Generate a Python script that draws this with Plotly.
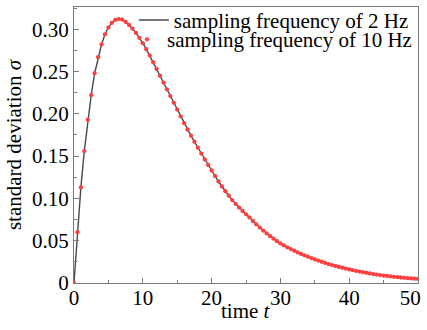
import plotly.graph_objects as go

time_s = [0, 0.5, 1, 1.5, 2, 2.5, 3, 3.5, 4, 4.5, 5, 5.5, 6, 6.5, 7, 7.5, 8, 8.5, 9, 9.5,
          10, 10.5, 11, 11.5, 12, 12.5, 13, 13.5, 14, 14.5, 15, 15.5, 16, 16.5, 17, 17.5,
          18, 18.5, 19, 19.5, 20, 20.5, 21, 21.5, 22, 22.5, 23, 23.5, 24, 24.5, 25, 25.5,
          26, 26.5, 27, 27.5, 28, 28.5, 29, 29.5, 30, 30.5, 31, 31.5, 32, 32.5, 33, 33.5,
          34, 34.5, 35, 35.5, 36, 36.5, 37, 37.5, 38, 38.5, 39, 39.5, 40, 40.5, 41, 41.5,
          42, 42.5, 43, 43.5, 44, 44.5, 45, 45.5, 46, 46.5, 47, 47.5, 48, 48.5, 49, 49.5, 50]

sigma_2hz = [0.0, 0.060, 0.113, 0.156, 0.193, 0.222, 0.248, 0.267, 0.282, 0.294,
             0.302, 0.3075, 0.311, 0.312, 0.3114, 0.3086, 0.305, 0.3008, 0.2957, 0.2898,
             0.2835, 0.2764, 0.269, 0.261, 0.253, 0.245, 0.237, 0.229, 0.221, 0.213,
             0.205, 0.197, 0.189, 0.1815, 0.1742, 0.167, 0.160, 0.153, 0.146, 0.1395,
             0.133, 0.1265, 0.120, 0.1141, 0.1085, 0.1032, 0.098, 0.0935, 0.0892, 0.0851,
             0.0812, 0.0775, 0.0733, 0.0693, 0.0655, 0.0620, 0.0586, 0.0554, 0.0524, 0.0495,
             0.0468, 0.0445, 0.0422, 0.0401, 0.0381, 0.0362, 0.0344, 0.0327, 0.0311, 0.0295,
             0.0280, 0.0265, 0.0251, 0.0237, 0.0224, 0.0212, 0.0201, 0.0190, 0.0180, 0.0170,
             0.0161, 0.0152, 0.0143, 0.0135, 0.0127, 0.0120, 0.0113, 0.0106, 0.0100, 0.0094,
             0.0088, 0.0083, 0.0078, 0.0073, 0.0069, 0.0065, 0.0061, 0.0057, 0.0054, 0.0051,
             0.0048]

sigma_10hz = [0.0, 0.060, 0.113, 0.156, 0.193, 0.222, 0.248, 0.267, 0.282, 0.294,
              0.302, 0.3075, 0.311, 0.312, 0.3114, 0.3086, 0.305, 0.3008, 0.2957, 0.2898,
              0.2835, 0.2764, 0.269, 0.261, 0.253, 0.245, 0.237, 0.229, 0.221, 0.213,
              0.205, 0.197, 0.189, 0.1815, 0.1742, 0.167, 0.160, 0.153, 0.146, 0.1395,
              0.133, 0.1265, 0.120, 0.1141, 0.1085, 0.1032, 0.098, 0.0935, 0.0892, 0.0851,
              0.0812, 0.0775, 0.0733, 0.0693, 0.0655, 0.0620, 0.0586, 0.0554, 0.0524, 0.0495,
              0.0468, 0.0445, 0.0422, 0.0401, 0.0381, 0.0362, 0.0344, 0.0327, 0.0311, 0.0295,
              0.0280, 0.0265, 0.0251, 0.0237, 0.0224, 0.0212, 0.0201, 0.0190, 0.0180, 0.0170,
              0.0161, 0.0152, 0.0143, 0.0135, 0.0127, 0.0120, 0.0113, 0.0106, 0.0100, 0.0094,
              0.0088, 0.0083, 0.0078, 0.0073, 0.0069, 0.0065, 0.0061, 0.0057, 0.0054, 0.0051,
              0.0048]

x_tickvals = [0, 10, 20, 30, 40, 50]
x_ticktext = ["0", "10", "20", "30", "40", "50\u00a0\u00a0\u00a0"]
y_tickvals = [0, 0.05, 0.10, 0.15, 0.20, 0.25, 0.30]
y_ticktext = ["0", "0.05", "0.10", "0.15", "0.20", "0.25", "0.30"]

FONT = "Liberation Serif"

fig = go.Figure()
fig.add_trace(go.Scatter(
    x=time_s, y=sigma_2hz, mode="lines",
    line=dict(color="#4a4a4a", width=1.4),
    name="sampling frequency of 2 Hz", legend="legend", showlegend=True))
fig.add_trace(go.Scatter(
    x=time_s, y=sigma_10hz, mode="markers",
    marker=dict(color="#ff3f3f", size=4.3, line=dict(width=0)),
    name="sampling frequency of 10 Hz", legend="legend2", showlegend=True))

axis_common = dict(
    showline=True, mirror=True, linecolor="#7a7a7a", linewidth=1.3,
    ticks="inside", ticklen=5, tickcolor="#7a7a7a", tickwidth=1,
    showgrid=False, zeroline=False,
    tickfont=dict(family=FONT, size=21, color="black"),
    ticklabeloverflow="allow",
    automargin=False,
)

fig.update_layout(
    width=427, height=330,
    margin=dict(l=74, r=9, t=7, b=46.5, autoexpand=False),
    paper_bgcolor="white", plot_bgcolor="white",
    showlegend=True,
    font=dict(family=FONT, size=21, color="black"),
    xaxis=dict(range=[0, 50], tickmode="array", tickvals=x_tickvals, ticktext=x_ticktext,
               minor=dict(ticks="inside", ticklen=3, tickcolor="#7a7a7a", dtick=5, tick0=0),
               ticklabelstandoff=-4,
               **axis_common),
    yaxis=dict(range=[0, 0.3263], tickmode="array", tickvals=y_tickvals, ticktext=y_ticktext,
               minor=dict(ticks="inside", ticklen=3, tickcolor="#7a7a7a", dtick=0.025, tick0=0),
               title=dict(text="standard deviation <i>σ</i>", font=dict(family=FONT, size=21), standoff=4),
               **axis_common),
    legend=dict(x=0.174, y=1.026, xanchor="left", yanchor="top",
                bgcolor="rgba(0,0,0,0)", borderwidth=0,
                font=dict(family=FONT, size=21, color="black"), itemwidth=30),
    legend2=dict(x=0.154, y=0.956, xanchor="left", yanchor="top",
                 bgcolor="rgba(0,0,0,0)", borderwidth=0,
                 font=dict(family=FONT, size=21, color="black"), itemwidth=30),
    annotations=[dict(text="time <i>t</i>", xref="paper", yref="paper", x=0.5, y=0,
                      xanchor="center", yanchor="middle", yshift=-28, showarrow=False,
                      font=dict(family=FONT, size=21, color="black"))],
)

fig.write_html("out.html", config={"displayModeBar": False},
               post_script="document.body.style.margin='0';document.body.style.padding='0';")
